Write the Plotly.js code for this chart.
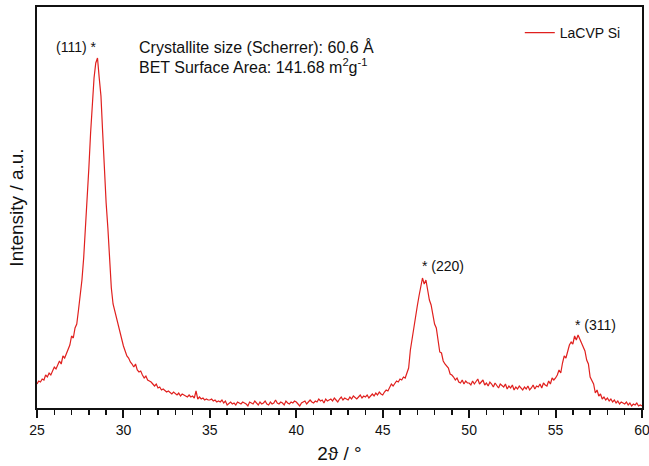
<!DOCTYPE html>
<html>
<head>
<meta charset="utf-8">
<script src="https://cdn.plot.ly/plotly-3.0.1.min.js"></script>
<style>
html,body{margin:0;padding:0;background:#fff;}
#chart{width:649px;height:466px;}
</style>
</head>
<body>
<div id="chart"></div>
<script>
// 2θ grid: 25.0 to 60.0 in 0.1° steps (one row per degree)
const angleStart = 25.0;
const angleStep = 0.1;
const intensity = [
  24, 27, 26, 29, 28, 33, 31, 35, 33, 37,          // 25
  41, 39, 44, 47, 44, 52, 50, 55, 58, 63,          // 26
  72, 70, 80, 84, 98, 112, 128, 150, 177, 205,     // 27
  240, 275, 310, 330, 345, 350, 330, 312, 275, 235,// 28
  205, 180, 150, 120, 104, 97, 88, 80, 74, 68,     // 29
  62, 57, 52, 50, 46, 44, 41, 44, 38, 36,          // 30
  37, 33, 30, 32, 28, 27, 26, 24, 22, 24,          // 31
  20, 21, 18, 19, 17, 16, 17, 15, 14, 16,          // 32
  14, 13, 15, 12, 14, 13, 12, 11, 13, 11,          // 33
  12, 10, 17, 9, 11, 9, 10, 8, 9, 8,               // 34
  8, 9, 7, 8, 6, 7, 6, 8, 5, 7,                    // 35
  3, 5, 6, 4, 5, 3, 6, 5, 4, 6,                    // 36
  5, 4, 2, 6, 5, 4, 7, 5, 3, 6,                    // 37
  4, 5, 7, 4, 3, 6, 4, 5, 8, 5,                    // 38
  4, 6, 5, 3, 7, 5, 4, 6, 5, 7,                    // 39
  6, 4, 2, 5, 6, 7, 4, 6, 8, 6,                    // 40
  5, 7, 6, 9, 7, 8, 5, 9, 7, 8,                    // 41
  9, 7, 10, 8, 6, 9, 11, 8, 10, 9,                 // 42
  8, 11, 9, 12, 10, 9, 11, 13, 10, 12,             // 43
  11, 13, 10, 12, 14, 12, 15, 13, 16, 14,          // 44
  13, 16, 18, 17, 20, 24, 22, 25, 27, 26,          // 45
  29, 28, 31, 30, 35, 40, 58, 70, 82, 90,          // 46
  102, 112, 121, 130, 124, 128, 118, 108, 103, 95, // 47
  84, 80, 70, 56, 55, 47, 44, 42, 40, 34,          // 48
  33, 31, 28, 30, 26, 25, 28, 24, 27, 25,          // 49
  25, 23, 27, 24, 26, 29, 24, 26, 28, 23,          // 50
  25, 22, 26, 24, 21, 25, 23, 20, 24, 22,          // 51
  21, 24, 19, 22, 20, 23, 18, 21, 19, 22,          // 52
  20, 18, 21, 19, 22, 18, 20, 23, 19, 22,          // 53
  21, 24, 20, 25, 23, 22, 27, 24, 30, 28,          // 54
  30, 33, 38, 35, 45, 52, 50, 58, 63, 66,          // 55
  64, 72, 68, 73, 69, 66, 61, 57, 48, 44,          // 56
  31, 28, 24, 15, 18, 12, 14, 9, 11, 8,            // 57
  10, 7, 9, 6, 8, 5, 7, 4, 6, 5,                   // 58
  4, 6, 3, 5, 2, 4, 3, 5, 2, 3,                    // 59
  2                                                // 60
];
const seriesName = "LaCVP Si";
const xTicks = [25, 30, 35, 40, 45, 50, 55, 60];
const peakLabels = ["(111) *", "* (220)", "* (311)"];
const peakAngles = [28.55, 47.15, 56.0];
const peakLabelHeights = [361, 142, 83];
const infoLines = ["Crystallite size (Scherrer): 60.6 Å", "BET Surface Area: 141.68 m<sup>2</sup>g<sup>-1</sup>"];

const angles = intensity.map((_, i) => Math.round((angleStart + i * angleStep) * 10) / 10);

const font = "Liberation Sans, Arial, Helvetica, sans-serif";
const red = "#e0201e";

const trace = {
  x: angles, y: intensity, type: "scatter", mode: "lines",
  name: seriesName, line: {color: red, width: 1.2}
};

const annotations = peakLabels.map((t, i) => ({
  x: peakAngles[i], y: peakLabelHeights[i], xref: "x", yref: "y",
  text: t, showarrow: false, xanchor: i === 0 ? "right" : "left", yanchor: "middle",
  font: {family: font, size: 14, color: "#111"}
}));
infoLines.forEach((t, i) => annotations.push({
  x: 0.165, y: i === 0 ? 361 : 342, xref: "paper", yref: "y",
  text: t, showarrow: false, xanchor: "left", yanchor: "middle",
  font: {family: font, size: 16, color: "#111"}
}));

const layout = {
  width: 649, height: 466,
  margin: {l: 37, r: 7, t: 7, b: 58},
  paper_bgcolor: "#fff", plot_bgcolor: "#fff",
  font: {family: font, color: "#111"},
  showlegend: true,
  legend: {x: 0.798, y: 0.975, xanchor: "left", yanchor: "top",
           bgcolor: "rgba(0,0,0,0)", font: {family: font, size: 14, color: "#111"}},
  xaxis: {
    range: [25, 60], tickvals: xTicks, ticktext: xTicks.map(String),
    showgrid: false, zeroline: false,
    showline: true, linecolor: "#111", linewidth: 2, mirror: true,
    ticks: "outside", ticklen: 8, tickwidth: 2, tickcolor: "#111",
    ticklabeloverflow: "allow",
    minor: {dtick: 1, ticks: "outside", ticklen: 5, tickwidth: 1.5, tickcolor: "#111", showgrid: false},
    tickfont: {family: font, size: 14, color: "#111"},
    title: {text: "2ϑ / °", font: {family: font, size: 19, color: "#111"}, standoff: 10}
  },
  yaxis: {
    range: [0, 401], showticklabels: false, ticks: "",
    showgrid: false, zeroline: false,
    showline: true, linecolor: "#111", linewidth: 2, mirror: true,
    title: {text: "Intensity / a.u.", font: {family: font, size: 19, color: "#111"}, standoff: 6}
  },
  annotations: annotations
};

Plotly.newPlot("chart", [trace], layout, {displayModeBar: false, staticPlot: true});
</script>
</body>
</html>
